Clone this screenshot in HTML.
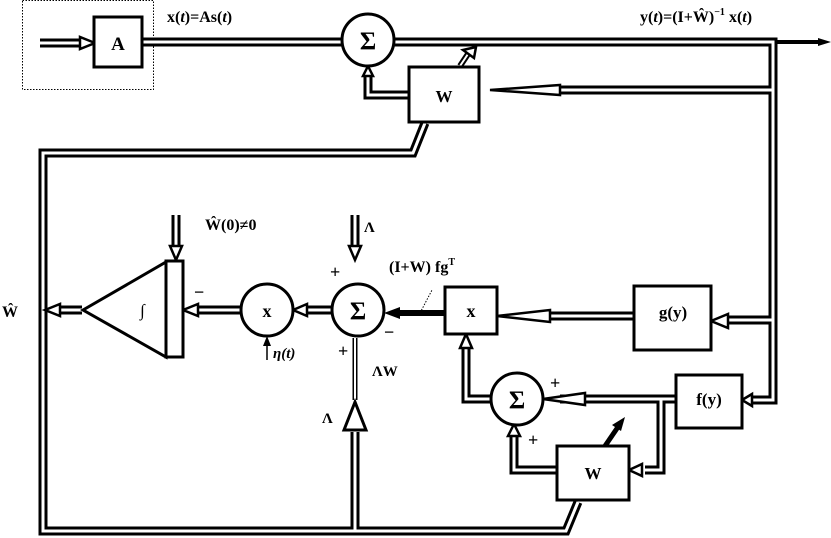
<!DOCTYPE html>
<html><head><meta charset="utf-8"><style>
html,body{margin:0;padding:0;background:#fff}
svg{display:block}
text{font-family:"Liberation Serif",serif;font-weight:bold;fill:#000}
.o{fill:none;stroke:#000;stroke-width:9;stroke-linejoin:miter;stroke-linecap:butt}
.i{fill:none;stroke:#fff;stroke-width:3;stroke-linejoin:miter;stroke-linecap:butt}
.b{fill:#fff;stroke:#000;stroke-width:3}
.ah{fill:#fff;stroke:#000;stroke-width:2.5;stroke-linejoin:miter}
</style></head><body>
<svg width="831" height="538" viewBox="0 0 831 538" xmlns="http://www.w3.org/2000/svg">
<defs>
<path id="p1" d="M142 42 H343"/>
<path id="p2" d="M394 42 H773 V400 H748"/>
<path id="p3" d="M773 90 H540"/>
<path id="p4" d="M408 95 H368 V72"/>
<path id="p5" d="M425 123 L413 153 H43 V531 H566 L578 502"/>
<path id="p6" d="M355 531 V432"/>
<path id="p7" d="M176 215 V248"/>
<path id="p8" d="M82 310 H58"/>
<path id="p9" d="M241 310 H196"/>
<path id="p10" d="M332 310 H305"/>
<path id="p11" d="M633 316 H540"/>
<path id="p12" d="M773 320 H725"/>
<path id="p13" d="M675 399 H560"/>
<path id="p14" d="M661 399 V470 H645"/>
<path id="p15" d="M556 470 H514 V436"/>
<path id="p16" d="M491 399 H466 V348"/>
<path id="p17" d="M355 215 V248"/>
<path id="p18" d="M40 43 H82"/>
</defs>
<rect x="22.5" y="0.5" width="131" height="89" fill="none" stroke="#000" stroke-width="1" stroke-dasharray="1.5,1.5"/>
<g class="o"><use href="#p1"/><use href="#p2"/><use href="#p3"/><use href="#p4"/><use href="#p5"/><use href="#p6"/><use href="#p7"/><use href="#p8"/><use href="#p9"/><use href="#p10"/><use href="#p11"/><use href="#p12"/><use href="#p13"/><use href="#p14"/><use href="#p15"/><use href="#p16"/><use href="#p17"/><use href="#p18"/></g>
<g class="i"><use href="#p1"/><use href="#p2"/><use href="#p3"/><use href="#p4"/><use href="#p5"/><use href="#p6"/><use href="#p7"/><use href="#p8"/><use href="#p9"/><use href="#p10"/><use href="#p11"/><use href="#p12"/><use href="#p13"/><use href="#p14"/><use href="#p15"/><use href="#p16"/><use href="#p17"/><use href="#p18"/></g>
<path d="M355 400 V338" fill="none" stroke="#000" stroke-width="5"/>
<path d="M355 400 V338" fill="none" stroke="#fff" stroke-width="2"/>
<path d="M775 42 H822" stroke="#000" stroke-width="4"/>
<polygon points="831,42 818,38 818,46" fill="#000"/>
<polygon class="ah" points="95,43 80,37 80,49"/>
<polygon class="ah" points="490,90 560,85 560,95"/>
<polygon class="ah" points="368,66 363,76 373,76"/>
<polygon class="ah" points="176,260 170,246 182,246"/>
<polygon class="ah" points="355,260 349,246 361,246"/>
<polygon class="ah" points="45,310 60,304 60,316"/>
<polygon class="ah" points="183,310 198,304 198,316"/>
<polygon class="ah" points="293,310 307,304 307,316"/>
<polygon class="ah" points="497,316 550,310 550,322"/>
<polygon class="ah" points="711,321 728,314 728,328"/>
<polygon class="ah" points="742,400 752,394 752,406"/>
<polygon class="ah" points="543,399 585,393 585,405"/>
<polygon class="ah" points="629,470 642,464 642,476"/>
<polygon class="ah" points="514,424 508,436 520,436"/>
<polygon class="ah" points="466,334 460,348 472,348"/>
<path d="M444 313 H395" stroke="#000" stroke-width="6"/>
<polygon points="384,313 400,307 400,319" fill="#000"/>
<path d="M420 313 L432 290" stroke="#000" stroke-width="1" stroke-dasharray="1.5,1.5"/>
<path d="M267 360 V345" stroke="#000" stroke-width="1.5"/>
<polygon points="267,336 263,346 271,346" fill="#000"/>
<path d="M460 66 L470 51" stroke="#000" stroke-width="6"/>
<path d="M460 66 L470 51" stroke="#fff" stroke-width="2"/>
<polygon points="476,47 463,50 474,58" class="ah"/>
<path d="M605 446 L620 424" stroke="#000" stroke-width="5"/>
<polygon points="625,417 612,425 621,431" fill="#000"/>
<rect class="b" x="94" y="17" width="48" height="50"/>
<rect class="b" x="409" y="67" width="70" height="55"/>
<rect class="b" x="445" y="287" width="52" height="47"/>
<rect class="b" x="634" y="286" width="77" height="64"/>
<rect class="b" x="676" y="375" width="66" height="53"/>
<rect class="b" x="557" y="446" width="72" height="54"/>
<circle class="b" cx="368" cy="40" r="26"/>
<circle class="b" cx="267" cy="310" r="26"/>
<circle class="b" cx="358" cy="310" r="26"/>
<circle class="b" cx="517" cy="399" r="26"/>
<polygon class="b" points="83,310 166,262 166,357"/>
<rect class="b" x="166" y="261" width="17" height="96"/>
<polygon class="b" points="355,402 344,430 366,430"/>
<text x="118" y="50" font-size="19" text-anchor="middle">A</text>
<text x="368" y="49" font-size="25" text-anchor="middle">Σ</text>
<text x="267" y="317" font-size="18" text-anchor="middle">x</text>
<text x="358" y="319" font-size="25" text-anchor="middle">Σ</text>
<text x="517" y="408" font-size="25" text-anchor="middle">Σ</text>
<text x="444" y="102" font-size="17" text-anchor="middle">W</text>
<text x="593" y="479" font-size="17" text-anchor="middle">W</text>
<text x="471" y="317" font-size="18" text-anchor="middle">x</text>
<text x="673" y="318" font-size="17" text-anchor="middle" font-weight="normal">g(y)</text>
<text x="709" y="405" font-size="17" text-anchor="middle" font-weight="normal">f(y)</text>
<text x="140" y="316" font-size="17" font-style="italic" font-weight="normal">∫</text>
<text x="167" y="22" font-size="16">x(<tspan font-style="italic">t</tspan>)=As(<tspan font-style="italic">t</tspan>)</text>
<text x="640" y="22" font-size="16">y(<tspan font-style="italic">t</tspan>)=(I+Ŵ)<tspan font-size="10" dy="-7">−1</tspan><tspan dy="7"> x(</tspan><tspan font-style="italic">t</tspan>)</text>
<text x="205" y="230" font-size="16">Ŵ(0)≠0</text>
<text x="364" y="232" font-size="15">Λ</text>
<text x="389" y="272" font-size="16">(I+W) fg<tspan font-size="10" dy="-7">T</tspan></text>
<text x="2" y="317" font-size="16">Ŵ</text>
<text x="372" y="376" font-size="15">ΛW</text>
<text x="322" y="423" font-size="15">Λ</text>
<text x="273" y="358" font-size="15" font-style="italic" font-weight="normal">η(t)</text>
<text x="330" y="278" font-size="18" font-weight="normal">+</text>
<text x="338" y="357" font-size="18" font-weight="normal">+</text>
<text x="384" y="338" font-size="18" font-weight="normal">−</text>
<text x="194" y="298" font-size="18" font-weight="normal">−</text>
<text x="550" y="389" font-size="18" font-weight="normal">+</text>
<text x="528" y="446" font-size="18" font-weight="normal">+</text>
</svg>
</body></html>
